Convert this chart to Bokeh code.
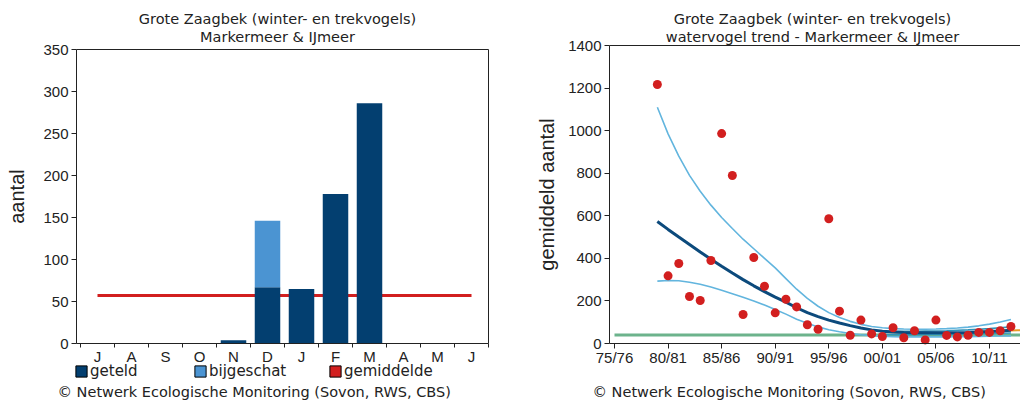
import numpy as np
from bokeh.plotting import figure
from bokeh.models import (FixedTicker, Label, Legend, LegendItem, LinearAxis, Range1d)
from bokeh.layouts import row
from bokeh.embed import file_html
from bokeh.resources import INLINE

# ---------------- data: left chart (monthly counts) ----------------
months = ["J", "A", "S", "O", "N", "D", "J", "F", "M", "A", "M", "J"]
geteld = [0, 0, 0, 0, 4, 67, 65, 178, 286, 0, 0, 0]
bijgeschat = [0, 0, 0, 0, 0, 79, 0, 0, 0, 0, 0, 0]
gemiddelde = 57
left_yticks = [0, 50, 100, 150, 200, 250, 300, 350]

# ---------------- data: right chart (trend) ----------------
seasons = list(range(1979, 2013))
season_ticks = [1975, 1980, 1985, 1990, 1995, 2000, 2005, 2010]
season_labels = ["75/76", "80/81", "85/86", "90/91", "95/96", "00/01", "05/06", "10/11"]
right_yticks = [0, 200, 400, 600, 800, 1000, 1200, 1400]
counts = [1217, 318, 376, 221, 202, 390, 986, 789, 136, 404, 269, 144, 208, 172,
          88, 67, 586, 152, 39, 110, 45, 33, 74, 27, 60, 17, 110, 38, 31, 39,
          52, 52, 60, 80]
trend = [573, 536, 500, 465, 430, 396, 363, 331, 300, 271, 244, 218, 194, 168,
         145, 126, 110, 96, 84, 73, 64, 58, 54, 52, 51, 50, 50, 50, 51, 52,
         54, 56, 59, 62]
upper = [1110, 985, 880, 790, 715, 650, 592, 540, 490, 445, 400, 355, 305, 255,
         212, 175, 145, 122, 104, 90, 80, 74, 70, 68, 67, 67, 68, 70, 73, 77,
         83, 91, 101, 113]
lower = [293, 296, 295, 288, 278, 265, 250, 234, 217, 200, 181, 160, 138, 114,
         95, 78, 65, 55, 47, 41, 37, 34, 32, 31, 31, 31, 31, 31, 32, 32,
         33, 34, 35, 36]
recent_seasons = list(range(2000, 2013))
recent_upper = [58, 57, 57, 57, 58, 59, 60, 62, 64, 67, 70, 74, 78]
recent_lower = [42, 41, 41, 41, 42, 42, 43, 44, 45, 46, 47, 48, 49]
orange_seasons = [2009, 2010, 2011, 2012, 2013]
orange_vals = [55, 57, 59, 61, 63]
ref_seasons = [1975, 2013]
ref_level = [40, 40]

DARK = "#033f70"
LIGHT = "#4b94d2"
RED = "#d21f1f"
TXT = "#222222"
TITLE_FONT = "DejaVu Sans"
TICK_FONT = "Liberation Sans"
COPY = "\u00a9 Netwerk Ecologische Monitoring (Sovon, RWS, CBS)"
H = 403  # canvas height; the frame fills the whole canvas


def bare_figure(width, xr, yr):
    p = figure(width=width, height=H, x_range=Range1d(*xr), y_range=Range1d(*yr),
               output_backend="svg", toolbar_location=None,
               min_border_left=0, min_border_right=0, min_border_top=0,
               min_border_bottom=0, x_axis_location=None, y_axis_location=None)
    p.outline_line_color = None
    p.xgrid.grid_line_color = None
    p.ygrid.grid_line_color = None
    p.title.text = ""
    return p


def make_axis(ticks, loc, bounds, labels=True):
    ax = LinearAxis(ticker=FixedTicker(ticks=ticks), fixed_location=loc, bounds=bounds)
    ax.axis_line_color = TXT
    ax.major_tick_line_color = TXT
    ax.major_tick_in = 0
    ax.major_tick_out = 5
    ax.minor_tick_line_color = None
    ax.major_label_text_font = TICK_FONT
    ax.major_label_text_font_size = "15px"
    ax.major_label_text_color = TXT
    ax.major_label_standoff = 3
    ax.axis_label_text_font = TICK_FONT
    ax.axis_label_text_font_style = "normal"
    ax.axis_label_text_font_size = "20px"
    ax.axis_label_text_color = TXT
    if not labels:
        ax.major_tick_line_color = None
        ax.major_label_text_font_size = "0px"
        ax.major_tick_out = 0
    return ax


def add_text(p, x, y, text, align="center", size="14.5px"):
    # x, y: screen pixels from the frame's left / bottom edge
    p.add_layout(Label(x=x, y=y, x_units="screen", y_units="screen", text=text,
                       text_align=align, text_baseline="middle",
                       text_font=TITLE_FONT, text_font_size=size, text_color=TXT))


# ================= left chart =================
n = len(months)
xs = np.arange(n)
WL = 528
PXL = 34.0          # pixels per month
PYL = 294.0 / 350   # pixels per count unit
cx0 = 97            # canvas x of first month centre
cy0 = 343           # canvas y of value 0
left = bare_figure(WL, (-cx0 / PXL, (WL - cx0) / PXL),
                   (-(H - cy0) / PYL, cy0 / PYL))
x_lo = -0.5 - 4 / PXL
x_hi = n - 0.5

yl = make_axis(left_yticks, x_lo, (0, 350))
yl.axis_label = "aantal"
yl.axis_label_standoff = 12
left.add_layout(yl, "left")

xl = make_axis(list(range(n)), 0, (x_lo, x_hi))
xl.ticker = FixedTicker(ticks=list(range(n)), minor_ticks=[i - 0.5 for i in range(n + 1)])
xl.major_label_overrides = {int(i): m for i, m in enumerate(months)}
xl.major_tick_line_color = None
xl.major_tick_out = 4
xl.minor_tick_line_color = TXT
xl.minor_tick_in = 0
xl.minor_tick_out = 4
xl.major_label_standoff = 0
left.add_layout(xl, "below")

left.add_layout(make_axis([], 350, (x_lo, x_hi), labels=False), "above")
left.add_layout(make_axis([], x_hi, (0, 350), labels=False), "right")

left.line(x=[xs[0], xs[-1]], y=[gemiddelde, gemiddelde], line_color=RED, line_width=3)
g = np.array(geteld)
b = np.array(bijgeschat)
left.vbar(x=xs, bottom=0, top=g, width=0.75, fill_color=DARK, line_color=None)
left.vbar(x=xs, bottom=g, top=g + b, width=0.75, fill_color=LIGHT, line_color=None)

# legend: one key per series (zero-size proxy glyphs carry the legend style)
for lab, col, lx in [("geteld", DARK, 74), ("bijgeschat", LIGHT, 193), ("gemiddelde", RED, 328)]:
    r = left.vbar(x=[xs[0]], bottom=[0], top=[0], width=0, fill_color=col,
                  line_color="black", line_width=1)
    lg = Legend(items=[LegendItem(label=lab, renderers=[r])],
                location=(lx, H - 380),
                orientation="horizontal", glyph_width=14, glyph_height=14,
                label_height=14, label_standoff=2, padding=0, margin=0, spacing=0,
                border_line_color=None, background_fill_alpha=0,
                label_text_font=TITLE_FONT, label_text_font_size="15px",
                label_text_color=TXT)
    left.add_layout(lg)

add_text(left, 277, H - 18, "Grote Zaagbek (winter- en trekvogels)")
add_text(left, 277, H - 36, "Markermeer & IJmeer")
add_text(left, 57, H - 391, COPY, align="left")

# ================= right chart =================
X0 = WL             # page x of right canvas
WR = 1020 - WL
PXR = 375 / 35.0    # pixels per season
PYR = 298.0 / 1400
tick0 = 614 - X0    # canvas x of season 1975
right = bare_figure(WR, (1975 - tick0 / PXR, 1975 + (WR - tick0) / PXR),
                    (-(H - cy0) / PYR, cy0 / PYR))
xr_lo = 1975 - 5 / PXR
xr_hi = 1975 + (WR - tick0) / PXR

yr = make_axis(right_yticks, xr_lo, (0, 1400))
yr.axis_label = "gemiddeld aantal"
yr.axis_label_standoff = 7
right.add_layout(yr, "left")

xr_ax = make_axis(season_ticks, 0, (xr_lo, xr_hi))
xr_ax.major_label_overrides = {t: s for t, s in zip(season_ticks, season_labels)}
xr_ax.major_label_standoff = 0
right.add_layout(xr_ax, "below")
right.add_layout(make_axis([], 1400, (xr_lo, xr_hi), labels=False), "above")

right.line(x=ref_seasons, y=ref_level, line_color="#6cb38c", line_width=3)
right.line(x=seasons, y=upper, line_color="#62b5de", line_width=1.6)
right.line(x=seasons, y=lower, line_color="#62b5de", line_width=1.6)
right.line(x=recent_seasons, y=recent_upper, line_color="#2f93b8", line_width=1.6)
right.line(x=recent_seasons, y=recent_lower, line_color="#2f93b8", line_width=1.6)
right.line(x=orange_seasons, y=orange_vals, line_color="#e89a25", line_width=2)
right.line(x=seasons, y=trend, line_color="#0c4a7c", line_width=3)
right.scatter(x=seasons, y=counts, size=9, fill_color=RED, line_color=None)

add_text(right, 812 - X0, H - 18, "Grote Zaagbek (winter- en trekvogels)")
add_text(right, 812 - X0, H - 36, "watervogel trend - Markermeer & IJmeer")
add_text(right, 592 - X0, H - 391, COPY, align="left")

layout = row(left, right)
open("out.html", "w").write(file_html(layout, INLINE))
